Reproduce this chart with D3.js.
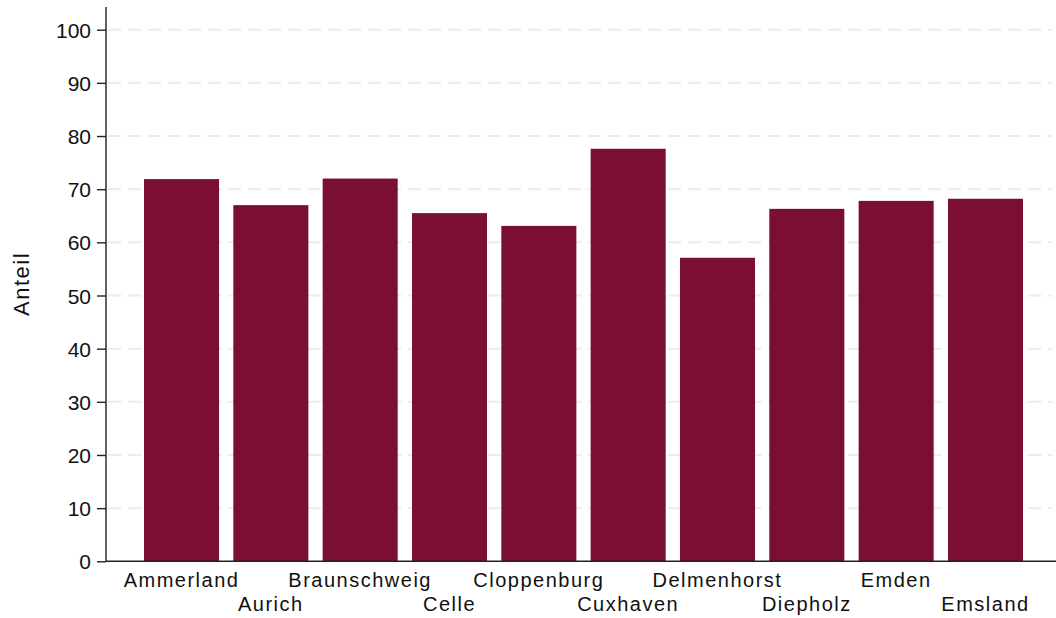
<!DOCTYPE html>
<html><head><meta charset="utf-8">
<script src="https://cdn.jsdelivr.net/npm/d3@7"></script>
<style>body{margin:0;background:#fff;}svg{display:block;font-family:"Liberation Sans",Arial,Helvetica,sans-serif;}</style>
</head><body><svg id="c" width="1056" height="618"></svg>
<script>
const categories = ["Ammerland","Aurich","Braunschweig","Celle","Cloppenburg","Cuxhaven","Delmenhorst","Diepholz","Emden","Emsland"];
const values = [71.9, 67.0, 72.0, 65.5, 63.1, 77.6, 57.1, 66.3, 67.8, 68.2];
const yTicks = [0,10,20,30,40,50,60,70,80,90,100];
const yTitle = "Anteil";

const svg = d3.select("#c");
const x0 = 106, yBottom = 561.3, yTop = 29.7;
const y = d3.scaleLinear().domain([0,100]).range([yBottom, yTop]);
const x = d3.scaleBand().domain(categories).range([x0, 1061]).paddingInner(0.16).paddingOuter(0.4254);

// grid
svg.append("g").selectAll("line").data(yTicks.filter(d=>d>0)).join("line")
  .attr("x1", x0+2).attr("x2", 1052)
  .attr("y1", d=>y(d)).attr("y2", d=>y(d))
  .attr("stroke", "#ececec").attr("stroke-width", 2).attr("stroke-dasharray", "13.3,6.7");

// bars
svg.append("g").selectAll("rect").data(categories).join("rect")
  .attr("x", d=>x(d)).attr("width", x.bandwidth())
  .attr("y", (d,i)=>y(values[i])).attr("height", (d,i)=>y(0)-y(values[i]))
  .attr("fill", "#7b0f32");

// y axis
const ya = svg.append("g").attr("transform", `translate(${x0},0)`)
  .call(d3.axisLeft(y).tickValues(yTicks).tickSize(9).tickPadding(6));
ya.attr("font-family", null);
ya.select(".domain").attr("d", `M0,7V${yBottom}`).attr("stroke","#222").attr("stroke-width",1.4);
ya.selectAll(".tick line").attr("stroke","#222").attr("stroke-width",1.4);
ya.selectAll(".tick text").attr("font-size","21px").attr("fill","#111").attr("dy","0.36em");

// x baseline
svg.append("line").attr("x1", x0).attr("x2", 1056).attr("y1", yBottom).attr("y2", yBottom)
  .attr("stroke","#222").attr("stroke-width",1.4);

// x labels (staggered)
svg.append("g").selectAll("text").data(categories).join("text")
  .attr("x", d=>x(d)+x.bandwidth()/2)
  .attr("y", (d,i)=> i%2===0 ? 586.7 : 610.7)
  .attr("text-anchor","middle").attr("font-size","20px").attr("letter-spacing","1.5px")
  .attr("fill","#111").text(d=>d);

// y title
svg.append("text").attr("transform","translate(29.3,284) rotate(-90)")
  .attr("text-anchor","middle").attr("font-size","22px").attr("letter-spacing","1.5px").attr("fill","#111").text(yTitle);
</script></body></html>
